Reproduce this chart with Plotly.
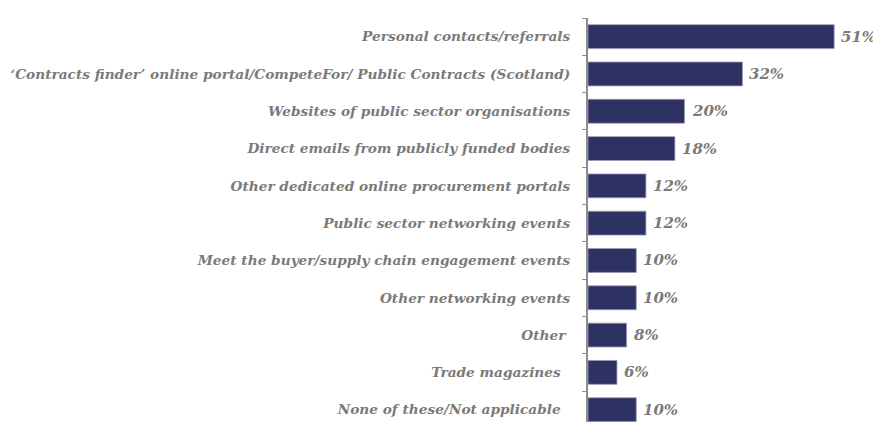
import plotly.graph_objects as go

categories = [
    "Personal contacts/referrals",
    "‘Contracts finder’ online portal/CompeteFor/ Public Contracts (Scotland)",
    "Websites of public sector organisations",
    "Direct emails from publicly funded bodies",
    "Other dedicated online procurement portals",
    "Public sector networking events",
    "Meet the buyer/supply chain engagement events",
    "Other networking events",
    "Other\u00a0",
    "Trade magazines\u00a0\u00a0",
    "None of these/Not applicable\u00a0\u00a0",
]
values = [51, 32, 20, 18, 12, 12, 10, 10, 8, 6, 10]
value_labels = [f"{v}%" for v in values]

GREY = "#7a7a7a"
NAVY = "#2e3262"
FONT = "DejaVu Serif"

fig = go.Figure(go.Bar(
    x=values, y=categories, orientation="h",
    marker=dict(color=NAVY, line=dict(color="#9a9cb8", width=0.8)),
))

for v, c, t in zip(values, categories, value_labels):
    fig.add_annotation(
        x=v, y=c, text=t, showarrow=False,
        xanchor="left", yanchor="middle", xshift=5,
        font=dict(family=FONT, size=15, color=GREY, weight="bold", style="italic"),
    )

fig.update_layout(
    width=873, height=414,
    margin=dict(l=580, r=0, t=10, b=0),
    plot_bgcolor="white", paper_bgcolor="white",
    bargap=0.36,
    showlegend=False,
    xaxis=dict(range=[0, 60.7], visible=False),
    yaxis=dict(
        type="category",
        range=[10.33, -0.5],
        showline=True, linecolor="#8c8c8c", linewidth=2,
        ticks="outside", ticklen=4, tickcolor="#8c8c8c", tickwidth=1,
        tickson="boundaries",
        ticklabelstandoff=13,
        tickfont=dict(family=FONT, size=13.7, color=GREY, weight="bold", style="italic"),
        showgrid=False,
    ),
)

fig.write_html("out.html")
